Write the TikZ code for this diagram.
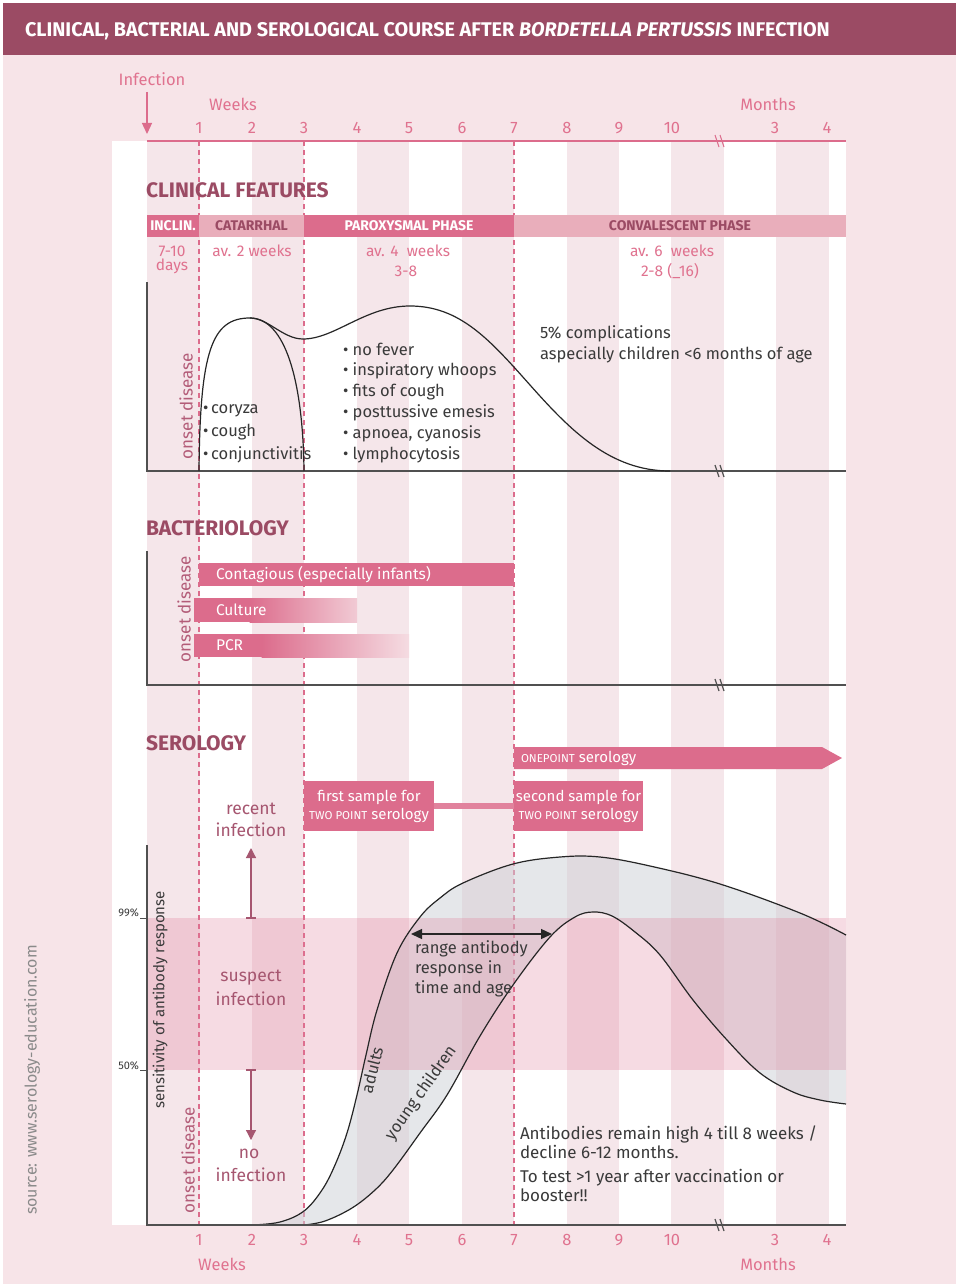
\documentclass[tikz,border=0pt]{standalone}
\usepackage{fontspec}
\setmainfont{Fira Sans}
\usetikzlibrary{arrows.meta}
\definecolor{bgpink}{HTML}{F7E4E8}
\definecolor{stripe}{HTML}{F5E6EA}
\definecolor{headc}{HTML}{9B4B64}
\definecolor{pinkmid}{HTML}{DC6C8C}
\definecolor{pinklight}{HTML}{E9AEBB}
\definecolor{pinkfade}{HTML}{F1CAD4}
\definecolor{pinkfadeb}{HTML}{F5DCE2}
\definecolor{pinktxt}{HTML}{E0728F}
\definecolor{mauve}{HTML}{9B4B64}
\definecolor{mauvetxt}{HTML}{A65670}
\definecolor{onset}{HTML}{B35C78}
\definecolor{darktxt}{HTML}{3A3A3A}
\definecolor{axisc}{HTML}{505050}
\definecolor{grayfill}{HTML}{CDD0D6}
\definecolor{bandc}{HTML}{E07A98}
\definecolor{srcgray}{HTML}{8A8A8A}
\newcommand\fsz[2]{\fontsize{#1}{#2}\selectfont}
\tikzset{
 every node/.style={inner sep=0pt, outer sep=0pt},
 num/.style={text=pinktxt, font=\fsz{16.5}{19}},
 sect/.style={anchor=west, text=mauve, font=\bfseries\fsz{21}{24}},
 phbox/.style={anchor=north west, minimum height=22pt, font=\bfseries\fsz{14}{17}},
 phdark/.style={phbox, fill=pinkmid, text=white},
 phlight/.style={phbox, fill=pinklight, text=mauve},
 sub/.style={text=pinktxt, font=\fsz{15.5}{18}},
 body/.style={anchor=west, text=darktxt, font=\fsz{16.5}{19}, text height=12pt, text depth=3.5pt},
 abody/.style={body, font=\fsz{17}{20}},
 onsetlbl/.style={rotate=90, text=onset, font=\fsz{17}{20}},
 infl/.style={text=mauvetxt, font=\fsz{17.5}{20}},
 axisln/.style={draw=axisc, line width=1.6pt},
 curveln/.style={draw=black!85, line width=1.2pt},
 pinkdash/.style={draw=pinkmid, line width=1.1pt, dash pattern=on 5pt off 4pt},
 barlbl/.style={anchor=west, text=white, font=\fsz{15.5}{18}},
 smp/.style={fill=pinkmid, text=white, minimum width=130pt, minimum height=50pt, align=center, font=\fsz{15}{18}, anchor=north west},
 axbreak/.pic={\draw (-5,-6)--(-1,6) (0,-6)--(4,6);},
}
\begin{document}
\begin{tikzpicture}[x=1pt,y=-1pt]
\useasboundingbox (0,0) rectangle (956,1284);
\fill[white] (0,0) rectangle (956,1284);
\fill[bgpink] (3,55) rectangle (956,1284);
\fill[headc] (3,3) rectangle (956,55);
\node[anchor=west, text=white, font=\bfseries\fsz{19.8}{22}] (title) at (25,31) {CLINICAL, BACTERIAL AND SEROLOGICAL COURSE AFTER \textit{BORDETELLA PERTUSSIS} INFECTION};
% chart area
\fill[white] (112,141) rectangle (846,1225);
\foreach \a in {147,251.5,356.5,461.5,566.5,671,776}{\fill[stripe] (\a,141) rectangle ++(52.5,1084);}
\foreach \x in {199,304,514}{\draw[pinkdash] (\x,141) -- (\x,1225);}
% top axis
\draw[draw=pinkmid, line width=1.3pt] (147,141) -- (846,141);
\pic[color=pinkmid, line width=1pt] at (720,141) {axbreak};
\node[num] (infl) at (152,79) {Infection};
\coordinate (infa) at (147,92);
\coordinate (infb) at (147,134);
\draw[pinkmid, line width=1.3pt, -{Triangle[length=11pt,width=10pt]}] (infa) -- (infb);
\node[num] (wk) at (233,104) {Weeks};
\node[num] (mo) at (768,104) {Months};
\foreach \x/\l/\n in {199/1/a,252/2/b,304/3/c,357/4/d,409/5/e,462/6/f,514/7/g,567/8/h,619/9/i,672/10/j,775/3/k,827/4/l}{
  \node[num] (top\n) at (\x,128) {\l};
  \node[num] (bot\n) at (\x,1240) {\l};
}
\node[num] (wkb) at (222,1264) {Weeks};
\node[num] (mob) at (768,1264) {Months};
% ---------------- clinical
\node[sect] (cf) at (146,190) {CLINICAL FEATURES};
\node[phdark, minimum width=52pt] (pinc) at (147,215) {INCLIN.};
\node[phlight, minimum width=105pt] (pcat) at (199,215) {CATARRHAL};
\node[phdark, minimum width=210pt] (ppar) at (304,215) {PAROXYSMAL PHASE};
\node[phlight, minimum width=332pt] (pcon) at (514,215) {CONVALESCENT PHASE};
\node[sub] (s1a) at (172,251) {7-10};
\node[sub] (s1b) at (172,266) {days};
\node[sub] (s2) at (252,251) {av. 2 weeks};
\node[sub] (s3a) at (408,251) {av. 4\ \ weeks};
\node[sub] (s3b) at (406,271) {3-8};
\node[sub] (s4a) at (672,251) {av. 6\ \ weeks};
\node[sub] (s4b) at (670,271) {2-8 (\_16)};
\draw[axisln] (147,282) -- (147,471) -- (846,471);
\pic[color=axisc, line width=1.2pt] at (720,471) {axbreak};
\draw[curveln] (199,471) .. controls (200,350) and (212,318) .. (250,318) .. controls (285,318) and (303,380) .. (304,471);
\draw[curveln] (250,318) .. controls (268,318) and (283,339) .. (303,339) .. controls (335,339) and (365,306) .. (410,306) .. controls (460,306) and (490,340) .. (530,385) .. controls (570,430) and (610,471) .. (670,471);
\node[onsetlbl] (on1) at (186,406) {onset disease};
\node[body] (b1) at (203,409) {•\,coryza};
\node[body] (b2) at (203,432) {•\,cough};
\node[body] (b3) at (203,455) {•\,conjunctivitis};
\foreach \t [count=\i] in {no fever, inspiratory whoops, fits of cough, posttussive emesis, {apnoea, cyanosis}, lymphocytosis}{
  \node[body] (p\i) at (343,330+20.8*\i) {• \t};}
\node[body] (cm1) at (540,334) {5\% complications};
\node[body] (cm2) at (540,355) {aspecially children <6 months of age};
% ---------------- bacteriology
\node[sect] (bt) at (146,528) {BACTERIOLOGY};
\draw[axisln] (147,551) -- (147,685) -- (846,685);
\pic[color=axisc, line width=1.2pt] at (720,685) {axbreak};
\fill[pinkmid] (199,563) rectangle (514,586);
\node[barlbl] (bc) at (216,574.5) {Contagious (especially infants)};
\fill[pinkmid] (194,598) rectangle (250,622);
\shade[left color=pinkmid, right color=pinkfade] (249.5,598) rectangle (357,622);
\node[barlbl] (bcu) at (216,610) {Culture};
\fill[pinkmid] (194,634) rectangle (262,657);
\shade[left color=pinkmid, right color=pinkfadeb] (261.5,634) rectangle (409,657);
\node[barlbl] (bpcr) at (216,645.5) {PCR};
\node[onsetlbl] (on2) at (184,609) {onset disease};
% ---------------- serology
\node[sect] (st) at (146,743) {SEROLOGY};
\fill[pinkmid] (514,747) -- (822,747) -- (842,758) -- (822,769) -- (514,769) -- cycle;
\node[anchor=west, text=white, font=\fsz{15}{18}] (op) at (521,758) {{\fsz{11.5}{13}ONEPOINT} serology};
\node[smp] (fs) at (304,781) {first sample for\\{\fsz{11.5}{13}TWO POINT} serology};
\node[smp, minimum width=129pt] (ss) at (514,781) {second sample for\\{\fsz{11.5}{13}TWO POINT} serology};
\draw[pinkmid!85, line width=6pt] (fs.east) -- (ss.west);
% fills
\fill[grayfill, opacity=0.5] plot[smooth, tension=0.6] coordinates {(252,1225) (280,1222) (304,1211) (322,1190) (335,1165) (347,1133) (357,1095) (366,1055) (377,1010) (397,953) (420,917) (440,898) (463,883) (513,864) (560,857) (600,857) (650,866) (720,884) (800,913) (846,935)} -- plot[smooth, tension=0.6] coordinates {(846,1104) (820,1100) (793,1092) (760,1073) (727,1040) (693,1000) (660,955) (635,932) (612,916) (593,912) (575,917) (550,937) (513,985) (480,1036) (447,1095) (420,1133) (393,1170) (375,1190) (352,1208) (325,1221) (304,1225)} -- cycle;
\fill[bandc, opacity=0.27] (147,918) rectangle (846,1070);
\draw[curveln] plot[smooth, tension=0.6] coordinates {(252,1225) (280,1222) (304,1211) (322,1190) (335,1165) (347,1133) (357,1095) (366,1055) (377,1010) (397,953) (420,917) (440,898) (463,883) (513,864) (560,857) (600,857) (650,866) (720,884) (800,913) (846,935)};
\draw[curveln] plot[smooth, tension=0.6] coordinates {(304,1225) (325,1221) (352,1208) (375,1190) (393,1170) (420,1133) (447,1095) (480,1036) (513,985) (550,937) (575,917) (593,912) (612,916) (635,932) (660,955) (693,1000) (727,1040) (760,1073) (793,1092) (820,1100) (846,1104)};
\draw[axisln] (147,845) -- (147,1225) -- (846,1225);
\pic[color=axisc, line width=1.2pt] at (720,1225) {axbreak};
\draw[axisc, line width=1pt] (140,918) -- (147,918) (140,1070) -- (147,1070);
\node[anchor=east, text=darktxt, font=\fsz{11}{13}] (p99) at (139,913) {99\%};
\node[anchor=east, text=darktxt, font=\fsz{11}{13}] (p50) at (139,1066) {50\%};
\node[rotate=90, text=darktxt, font=\fsz{15}{18}] (sens) at (160,1000) {sensitivity of antibody response};
\node[onsetlbl] (on3) at (188,1160) {onset disease};
\node[infl] (ri1) at (251,809) {recent};
\node[infl] (ri2) at (251,830) {infection};
\node[infl] (si1) at (251,978) {suspect};
\node[infl] (si2) at (251,999) {infection};
\node[infl] (ni1) at (249,1154) {no};
\node[infl] (ni2) at (251,1175) {infection};
\coordinate (ua) at (251,918); \coordinate (ub) at (251,848);
\coordinate (da) at (251,1070); \coordinate (db) at (251,1140);
\draw[mauvetxt, line width=1.2pt, -{Triangle[length=10pt,width=10pt]}] (ua) -- (ub);
\draw[mauvetxt, line width=1.2pt, -{Triangle[length=10pt,width=10pt]}] (da) -- (db);
\draw[mauvetxt, line width=1.2pt] (246,918) -- (256,918) (246,1070) -- (256,1070);
\coordinate (rA) at (411,934); \coordinate (rB) at (552,934);
\draw[black!85, line width=1.3pt, {Triangle[length=11pt,width=10pt]}-{Triangle[length=11pt,width=10pt]}] (rA) -- (rB);
\node[body] (rt1) at (415,949) {range antibody};
\node[body] (rt2) at (415,969) {response in};
\node[body] (rt3) at (415,989) {time and age};
\node[rotate=76, text=darktxt, font=\fsz{16.5}{19}] (adl) at (372,1070) {adults};
\node[rotate=55, text=darktxt, font=\fsz{16.5}{19}] (ycl) at (421,1093) {young children};
\node[abody] (ab1) at (520,1135) {Antibodies remain high 4 till 8 weeks /};
\node[abody] (ab2) at (520,1154) {decline 6-12 months.};
\node[abody] (ab3) at (520,1178) {To test >1 year after vaccination or};
\node[abody] (ab4) at (520,1197) {booster!!};
\node[rotate=90, text=srcgray, font=\fsz{16}{19}] (src) at (32,1080) {source: www.serology-education.com};
\end{tikzpicture}
\end{document}
